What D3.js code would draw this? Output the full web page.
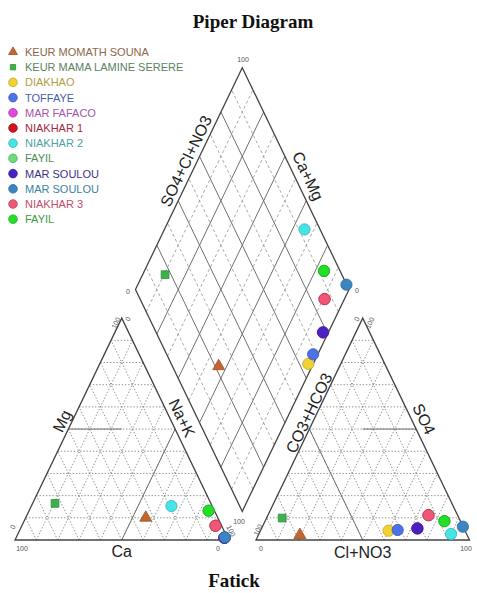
<!DOCTYPE html>
<html>
<head>
<meta charset="utf-8">
<script src="https://cdn.jsdelivr.net/npm/d3@7"></script>
<style>
  html, body { margin: 0; padding: 0; background: #fff; }
  svg { display: block; }
</style>
</head>
<body>
<svg id="chart" width="477" height="593"></svg>
<script>
// ---- Sample data (percent of meq/L) ----
const samples = [
  "KEUR MOMATH SOUNA", "KEUR MAMA LAMINE SERERE", "DIAKHAO", "TOFFAYE",
  "MAR FAFACO", "NIAKHAR 1", "NIAKHAR 2", "FAYIL",
  "MAR SOULOU", "MAR SOULOU", "NIAKHAR 3", "FAYIL"
];
const shapes = [
  "triangle", "square", "circle", "circle", "circle", "circle",
  "circle", "circle", "circle", "circle", "circle", "circle"
];
const fillColors = [
  "#c4662c", "#3cb34a", "#f2d233", "#4b72e6", "#e246e0", "#d3121f",
  "#45e4e6", "#6adc78", "#4a22c4", "#3a86c4", "#f25676", "#22e026"
];
const labelColors = [
  "#8c6848", "#5b8262", "#b39c42", "#4a60aa", "#a552aa", "#a32a3a",
  "#4aa2aa", "#4b8c52", "#3b3284", "#3b82a2", "#c24c6a", "#3c9c3c"
];

// cations
const caPct = [33.5, 73.0, 1.3, 1.2, 1.5, 2.9, 19.1, 2.7, 1.5, 1.1, 2.9, 2.7];
const mgPct = [10.5, 16.5, 1.0, 1.0, 1.0, 6.4, 15.3, 13.2, 1.0, 1.2, 6.4, 13.2];
const naPct = [56.0, 10.5, 97.7, 97.8, 97.5, 90.7, 65.6, 84.1, 97.5, 97.7, 90.7, 84.1];

// anions
const hco3Pct = [78.1, 82.8, 35.8, 31.4, 21.8, 13.6, 7.3, 7.5, 21.8, 0.1, 13.6, 7.5];
const so4Pct  = [2.7, 9.9, 4.2, 4.5, 5.2, 11.2, 2.7, 8.5, 5.2, 6.0, 11.2, 8.5];
const clPct   = [19.2, 7.3, 60.0, 64.1, 73.0, 75.2, 90.0, 84.0, 73.0, 93.9, 75.2, 84.0];

const gridSteps = [10, 20, 30, 40, 50, 60, 70, 80, 90];

// ---- Layout ----
const svg = d3.select("#chart");
const side = 213.5;          // triangle base width
const vStretch = 1.2;        // vertical stretch of the whole diagram
const triH = side * Math.sqrt(3) / 2 * vStretch;
const baseY = 540;
const gap = 27.5;
const xCat = 15;
const xAn = xCat + side + gap;

const frac = d3.scaleLinear().domain([0, 100]).range([0, 1]);

// cation triangle: Ca bottom-left, Na+K bottom-right, Mg top
function catPt(ca, mg, na) {
  return [xCat + side * (frac(na) + frac(mg) / 2), baseY - triH * frac(mg)];
}
// anion triangle: CO3+HCO3 bottom-left, Cl+NO3 bottom-right, SO4 top
function anPt(co3, so4, cl) {
  return [xAn + side * (frac(cl) + frac(so4) / 2), baseY - triH * frac(so4)];
}
// diamond
const dBottom = [xCat + side + gap / 2, baseY - (gap / 2) * Math.sqrt(3) * vStretch];
const uL = [-side / 2, -triH];
const uR = [side / 2, -triH];
function diaPt(caMg, so4Cl) {
  const a = frac(caMg), b = frac(so4Cl);
  return [dBottom[0] + a * uL[0] + b * uR[0], dBottom[1] + a * uL[1] + b * uR[1]];
}

const line = d3.line();
const gGrid = svg.append("g");

function seg(p, q, cls) {
  const path = gGrid.append("path").attr("d", line([p, q])).attr("fill", "none");
  if (cls === "dot") path.attr("stroke", "#7e7e7e").attr("stroke-width", 0.85).attr("stroke-dasharray", "1.4,1.8");
  else if (cls === "dash") path.attr("stroke", "#939393").attr("stroke-width", 0.8).attr("stroke-dasharray", "3,2.5");
  else if (cls === "solid") path.attr("stroke", "#707070").attr("stroke-width", 1);
  else path.attr("stroke", "#444").attr("stroke-width", 1.3);
}

// triangle grids
gridSteps.forEach(k => {
  seg(catPt(100 - k, k, 0), catPt(0, k, 100 - k), "dot");
  seg(catPt(100 - k, 0, k), catPt(0, 100 - k, k), "dot");
  seg(catPt(k, 0, 100 - k), catPt(k, 100 - k, 0), "dot");
  seg(anPt(100 - k, k, 0), anPt(0, k, 100 - k), "dot");
  seg(anPt(100 - k, 0, k), anPt(0, 100 - k, k), "dot");
  seg(anPt(k, 0, 100 - k), anPt(k, 100 - k, 0), "dot");
});
// facies dividers inside the triangles
seg(catPt(50, 50, 0), catPt(25, 50, 25), "solid");
seg(catPt(50, 0, 50), catPt(0, 50, 50), "solid");
seg(anPt(25, 50, 25), anPt(0, 50, 50), "solid");
seg(anPt(50, 0, 50), anPt(50, 50, 0), "solid");

// diamond grid
gridSteps.forEach(k => {
  const style = k % 20 === 0 ? "solid" : "dash";
  seg(diaPt(k, 0), diaPt(k, 100), style);
  seg(diaPt(0, k), diaPt(100, k), style);
});

// outlines
const gOut = svg.append("g");
function outline(pts) {
  gOut.append("path").attr("d", line(pts) + "Z")
    .attr("fill", "none").attr("stroke", "#444").attr("stroke-width", 1.3)
    .attr("stroke-linejoin", "miter");
}
outline([catPt(100, 0, 0), catPt(0, 0, 100), catPt(0, 100, 0)]);
outline([anPt(100, 0, 0), anPt(0, 0, 100), anPt(0, 100, 0)]);
outline([diaPt(0, 0), diaPt(100, 0), diaPt(100, 100), diaPt(0, 100)]);

// ---- Axis titles ----
const ang = Math.atan2(triH, side / 2) * 180 / Math.PI;
const gLab = svg.append("g")
  .attr("font-family", "'Liberation Sans', Arial, sans-serif")
  .attr("font-size", 16).attr("fill", "#222").attr("text-anchor", "middle");
function rotLabel(txt, x, y, a) {
  gLab.append("text").attr("transform", `translate(${x},${y}) rotate(${a})`)
    .attr("dy", "0.35em").text(txt);
}
rotLabel("SO4+Cl+NO3", 186, 161, -ang);
rotLabel("Ca+Mg", 308, 176, ang);
rotLabel("Mg", 62, 421, -ang);
rotLabel("Na+K", 182, 418, ang);
rotLabel("CO3+HCO3", 309, 413, -ang);
rotLabel("SO4", 424, 419, ang);
gLab.append("text").attr("x", catPt(50, 0, 50)[0]).attr("y", 557).text("Ca");
gLab.append("text").attr("x", anPt(50, 0, 50)[0]).attr("y", 558).text("Cl+NO3");

// ---- Small scale numbers ----
const gTick = svg.append("g")
  .attr("font-family", "'Liberation Sans', Arial, sans-serif")
  .attr("font-size", 7).attr("fill", "#555").attr("text-anchor", "middle");
function tick(txt, x, y, a) {
  gTick.append("text").attr("transform", `translate(${x},${y}) rotate(${a || 0})`)
    .attr("dy", "0.35em").text(txt);
}
tick("100", 243, 60);
tick("0", 128, 292);
tick("0", 357, 291);
tick("100", 239, 522);
tick("100", 116, 323, -ang);
tick("0", 128, 319, -ang);
tick("0", 13, 527, -ang);
tick("100", 22, 549);
tick("0", 218, 549);
tick("100", 231, 531, ang);
tick("0", 261, 549);
tick("100", 466, 549);
tick("100", 258, 530, -ang);
tick("0", 357, 319, -ang);
tick("100", 370, 323, -ang);

// ---- Markers ----
function symbolPath(shape, size) {
  const type = shape === "triangle" ? d3.symbolTriangle
    : shape === "square" ? d3.symbolSquare : d3.symbolCircle;
  return d3.symbol().type(type).size(size)();
}
function markerSize(shape) {
  return shape === "triangle" ? 62 : shape === "square" ? 60 : 100;
}
const gPts = svg.append("g");
samples.forEach((name, i) => {
  const fill = fillColors[i];
  const stroke = d3.color(fill).darker(0.7).formatHex();
  const pts = [
    catPt(caPct[i], mgPct[i], naPct[i]),
    anPt(hco3Pct[i], so4Pct[i], clPct[i]),
    diaPt(caPct[i] + mgPct[i], so4Pct[i] + clPct[i])
  ];
  pts.forEach(p => {
    gPts.append("path")
      .attr("d", symbolPath(shapes[i], markerSize(shapes[i])))
      .attr("transform", `translate(${p[0]},${p[1] + (shapes[i] === "triangle" ? 1 : 0)})`)
      .attr("fill", fill).attr("stroke", stroke).attr("stroke-width", 0.8);
  });
});

// ---- Legend ----
const gLeg = svg.append("g")
  .attr("font-family", "'Liberation Sans', Arial, sans-serif")
  .attr("font-size", 11);
samples.forEach((name, i) => {
  const y = 52 + i * 15.2;
  const fill = fillColors[i];
  const size = shapes[i] === "triangle" ? 34 : shapes[i] === "square" ? 28 : 58;
  gLeg.append("path")
    .attr("d", symbolPath(shapes[i], size))
    .attr("transform", `translate(13,${y})`)
    .attr("fill", fill).attr("stroke", d3.color(fill).darker(0.7).formatHex())
    .attr("stroke-width", 0.8);
  gLeg.append("text").attr("x", 25).attr("y", y).attr("dy", "0.36em")
    .attr("fill", labelColors[i]).text(name);
});

// ---- Titles ----
svg.append("text").attr("x", 253).attr("y", 28).attr("text-anchor", "middle")
  .attr("font-family", "'Liberation Serif', 'Times New Roman', serif")
  .attr("font-weight", "bold").attr("font-size", 19).attr("fill", "#111")
  .text("Piper Diagram");
svg.append("text").attr("x", 234).attr("y", 587).attr("text-anchor", "middle")
  .attr("font-family", "'Liberation Serif', 'Times New Roman', serif")
  .attr("font-weight", "bold").attr("font-size", 19).attr("fill", "#111")
  .text("Fatick");
</script>
</body>
</html>
